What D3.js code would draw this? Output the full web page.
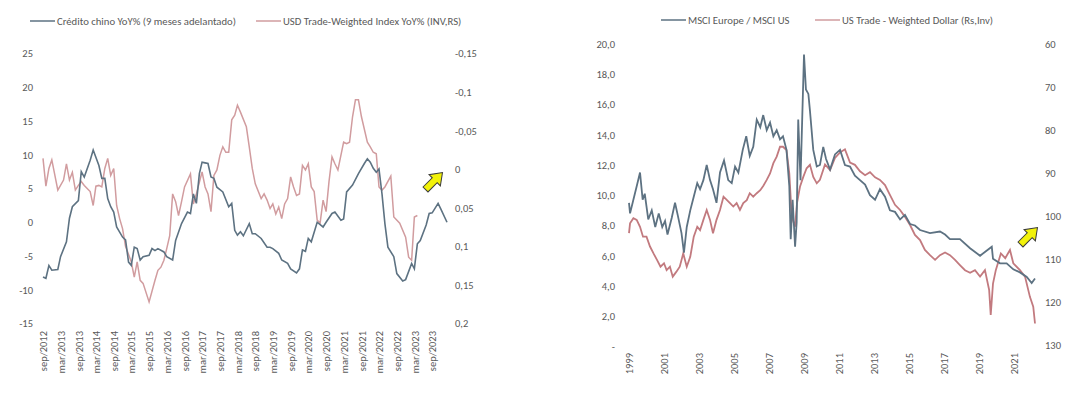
<!DOCTYPE html>
<html>
<head>
<meta charset="utf-8">
<script src="https://cdn.jsdelivr.net/npm/d3@7"></script>
<style>
  body { margin: 0; background: #fff; }
  text { font-family: Carlito, "Liberation Sans Narrow", "Liberation Sans", sans-serif; fill: #595959; }
</style>
</head>
<body>
<div id="graph"></div>
<script>
// ---- left chart: Chinese credit vs USD trade-weighted (monthly) ----
var creditDates = ["2012-09","2012-10","2012-11","2012-12","2013-02","2013-03","2013-05","2013-06","2013-07","2013-09",
  "2013-10","2013-11","2014-01","2014-02","2014-04","2014-05","2014-06","2014-07","2014-08","2014-09",
  "2014-10","2014-12","2015-01","2015-02","2015-03","2015-04","2015-05","2015-06","2015-07","2015-09",
  "2015-10","2015-11","2015-12","2016-02","2016-03","2016-05","2016-06","2016-08","2016-10","2016-11",
  "2016-12","2017-01","2017-02","2017-03","2017-04","2017-05","2017-06","2017-07","2017-08","2017-10",
  "2017-12","2018-01","2018-02","2018-03","2018-04","2018-05","2018-07","2018-08","2018-09","2018-11",
  "2019-01","2019-02","2019-03","2019-05","2019-06","2019-08","2019-09","2019-11","2019-12","2020-01",
  "2020-02","2020-03","2020-04","2020-06","2020-08","2020-09","2020-11","2020-12","2021-02","2021-03",
  "2021-04","2021-06","2021-08","2021-10","2021-11","2021-12","2022-01","2022-02","2022-03","2022-04",
  "2022-05","2022-06","2022-08","2022-09","2022-11","2022-12","2023-02","2023-03","2023-04","2023-05",
  "2023-07","2023-08","2023-09","2023-11","2023-12","2024-02"];
var creditValues = [-8.1,-8.3,-6.4,-7.1,-7.0,-5.1,-2.9,0.6,2.3,3.2,
  7.5,6.7,9.2,10.7,8.4,6.5,6.5,3.5,2.3,1.5,
  -0.7,-2.2,-2.6,-5.9,-6.4,-3.7,-3.9,-5.6,-5.1,-4.9,
  -3.9,-4.2,-3.9,-4.4,-5.1,-5.6,-2.7,-0.2,1.5,1.3,
  4.2,2.8,7.2,8.9,8.8,8.7,6.7,6.5,5.2,4.5,
  2.3,2.8,-1.2,-1.9,-1.4,-2.0,-0.2,-1.7,-1.7,-2.4,
  -3.7,-3.7,-3.9,-4.6,-5.6,-6.1,-6.9,-7.5,-6.9,-4.1,
  -4.3,-2.4,-2.9,0.0,-0.7,0.0,1.3,1.5,0.3,0.5,
  4.5,5.5,7.2,8.7,9.4,8.9,8.0,7.4,7.9,4.2,
  -0.2,-3.7,-5.1,-7.6,-8.7,-8.5,-6.1,-6.9,-3.2,-2.7,
  -0.4,1.3,1.4,2.8,1.9,0.0];

var usdDates = ["2012-09","2012-10","2012-11","2012-12","2013-02","2013-04","2013-05","2013-06","2013-07","2013-08",
  "2013-09","2013-10","2013-11","2014-01","2014-02","2014-03","2014-04","2014-05","2014-06","2014-07",
  "2014-08","2014-09","2014-10","2014-11","2014-12","2015-01","2015-03","2015-04","2015-05","2015-06",
  "2015-07","2015-09","2015-11","2015-12","2016-01","2016-02","2016-03","2016-04","2016-05","2016-06",
  "2016-07","2016-08","2016-09","2016-11","2016-12","2017-01","2017-03","2017-04","2017-05","2017-06",
  "2017-07","2017-08","2017-09","2017-10","2017-11","2017-12","2018-01","2018-02","2018-03","2018-04",
  "2018-06","2018-07","2018-08","2018-09","2018-11","2018-12","2019-01","2019-02","2019-03","2019-04",
  "2019-05","2019-06","2019-07","2019-08","2019-09","2019-10","2019-11","2019-12","2020-01","2020-02",
  "2020-03","2020-04","2020-05","2020-06","2020-07","2020-08","2020-09","2020-10","2020-11","2020-12",
  "2021-01","2021-03","2021-04","2021-05","2021-06","2021-07","2021-08","2021-09","2021-11","2021-12",
  "2022-01","2022-02","2022-03","2022-04","2022-05","2022-07","2022-08","2022-10","2022-12","2023-01",
  "2023-02","2023-03","2023-04"];
var usdValues = [-0.014,0.022,-0.001,-0.012,0.027,0.014,-0.007,0.014,0.004,0.027,
  0.021,0.016,0.021,0.029,0.047,0.022,0.021,0.023,-0.001,-0.014,
  0.008,-0.001,0.047,0.064,0.077,0.1,0.12,0.14,0.12,0.144,
  0.148,0.172,0.144,0.131,0.127,0.118,0.103,0.086,0.032,0.042,
  0.06,0.042,0.023,0.006,0.045,0.032,0.0035,0.023,0.032,0.055,
  0.008,0.001,-0.018,-0.029,-0.022,-0.022,-0.064,-0.070,-0.083,-0.074,
  -0.055,-0.029,-0.001,0.019,0.038,0.032,0.040,0.051,0.045,0.058,
  0.049,0.064,0.045,0.038,0.010,0.023,0.034,0.032,-0.005,0.001,
  -0.007,0.023,0.029,0.066,0.070,0.040,0.055,0.016,-0.016,-0.007,
  0.001,-0.035,-0.033,-0.035,-0.068,-0.090,-0.090,-0.068,-0.035,-0.029,
  -0.022,-0.020,0.023,0.027,0.023,0.009,0.062,0.070,0.088,0.114,
  0.118,0.062,0.060];

var leftTicks = [25, 20, 15, 10, 5, 0, -5, -10, -15];
var rightTicks = [-0.15, -0.1, -0.05, 0, 0.05, 0.1, 0.15, 0.2];
var monthNames = ["jan","feb","mar","apr","may","jun","jul","aug","sep","oct","nov","dec"];

// ---- right chart: MSCI Europe / MSCI US vs US trade-weighted dollar ----
var ratioYears = [1999.0,1999.06,1999.25,1999.44,1999.63,1999.78,1999.9,2000.1,2000.3,2000.5,
  2000.7,2000.9,2001.06,2001.2,2001.44,2001.63,2001.8,2002.0,2002.14,2002.3,
  2002.5,2002.7,2002.9,2003.06,2003.25,2003.44,2003.63,2003.8,2004.0,2004.2,
  2004.43,2004.67,2004.87,2005.06,2005.25,2005.5,2005.7,2005.9,2006.1,2006.3,
  2006.5,2006.67,2006.87,2007.06,2007.25,2007.44,2007.63,2007.8,2008.0,2008.16,
  2008.24,2008.35,2008.49,2008.58,2008.67,2008.8,2009.0,2009.11,2009.25,2009.34,
  2009.53,2009.73,2009.91,2010.1,2010.26,2010.49,2010.77,2011.06,2011.34,2011.63,2011.91,
  2012.2,2012.49,2012.77,2013.06,2013.34,2013.63,2013.91,2014.2,2014.49,2014.77,
  2015.06,2015.34,2015.63,2016.2,2016.77,2017.06,2017.34,2017.91,2018.49,2019.06,
  2019.73,2019.8,2020.2,2020.58,2020.96,2021.34,2021.73,2022.01,2022.2];
var ratioValues = [9.5,8.8,9.7,10.6,11.5,9.7,10.1,8.4,9.0,7.9,
  8.8,7.9,8.3,7.4,8.5,9.5,8.6,7.5,6.2,7.9,
  9.0,9.9,10.8,10.4,11.0,12.0,11.0,10.4,9.5,11.5,
  12.3,11.0,10.8,11.9,11.5,13.0,13.9,12.6,13.2,15.0,
  14.5,15.3,14.3,14.8,13.9,14.3,13.7,13.9,13.0,10.6,
  7.1,9.7,6.6,8.2,15.0,11.0,19.3,17.0,16.7,15.6,
  13.0,11.9,12.0,13.2,12.4,11.7,12.7,13.0,12.0,11.9,11.3,
  11.0,10.7,10.0,9.7,10.4,9.9,9.0,8.9,8.4,8.7,
  8.1,8.0,7.7,7.5,7.6,7.4,7.1,7.1,6.5,6.0,
  6.6,5.8,5.5,5.5,5.1,4.9,4.6,4.2,4.5];

var dollarYears = [1999.0,1999.06,1999.25,1999.44,1999.63,1999.8,2000.0,2000.2,2000.4,2000.6,
  2000.8,2001.0,2001.15,2001.34,2001.5,2001.7,2001.9,2002.1,2002.3,2002.5,
  2002.7,2002.9,2003.06,2003.25,2003.44,2003.63,2003.8,2004.0,2004.2,2004.4,
  2004.6,2004.77,2004.96,2005.15,2005.34,2005.53,2005.73,2005.9,2006.1,2006.3,
  2006.5,2006.67,2006.87,2007.06,2007.25,2007.44,2007.63,2007.8,2008.0,2008.16,
  2008.3,2008.49,2008.6,2008.77,2008.96,2009.15,2009.34,2009.53,2009.73,2009.91,
  2010.2,2010.49,2010.77,2011.06,2011.34,2011.63,2011.91,2012.2,2012.49,2012.77,
  2013.06,2013.34,2013.63,2013.91,2014.2,2014.49,2014.77,2015.06,2015.34,2015.63,
  2015.91,2016.2,2016.49,2016.77,2017.06,2017.34,2017.63,2017.91,2018.2,2018.49,
  2018.77,2019.06,2019.34,2019.58,2019.67,2019.8,2019.96,2020.25,2020.5,2020.77,
  2020.96,2021.34,2021.63,2021.91,2022.1,2022.2];
var dollarValues = [104.0,101.7,100.5,100.9,102.5,104.8,104.8,107.1,108.7,110.2,
  111.8,111.0,112.6,111.8,114.1,113.0,111.8,108.7,111.8,109.5,
  104.8,102.5,103.3,100.9,98.6,100.9,104.0,100.9,98.6,95.5,
  96.3,97.0,97.8,97.0,98.6,97.0,96.3,94.7,95.5,94.7,
  94.0,93.0,91.6,90.1,87.7,86.2,83.9,83.9,84.7,90.1,
  100.2,102.5,97.0,93.2,90.9,88.9,88.1,90.9,92.4,91.6,
  88.0,89.3,86.5,85.2,84.5,87.6,88.1,89.6,90.5,89.8,
  91.0,91.6,92.8,95.1,97.4,98.6,100.2,102.1,104.4,105.6,
  107.9,109.1,110.2,109.1,108.5,109.1,110.2,111.4,112.6,113.2,
  112.6,114.1,112.6,117.2,123.0,115.7,112.6,108.7,109.8,107.9,
  111.0,112.6,114.1,118.8,121.1,125.0];

var ratioTicks = [0, 2, 4, 6, 8, 10, 12, 14, 16, 18, 20];
var dollarTicks = [60, 70, 80, 90, 100, 110, 120, 130];
var yearTicks = [1999, 2001, 2003, 2005, 2007, 2009, 2011, 2013, 2015, 2017, 2019, 2021];

var blue = "#5d7282", redLight = "#d19c9f", red = "#c27a7f";

var svg = d3.select("#graph")
  .append("svg")
    .attr("width", 1080)
    .attr("height", 393);

var parseMonth = d3.timeParse("%Y-%m");

// ===== left chart =====
var xL = d3.scaleTime()
  .domain([parseMonth("2012-09"), parseMonth("2024-02")])
  .range([43, 447]);
var yL = d3.scaleLinear().domain([-15, 25]).range([323.5, 53.5]);
var yR = d3.scaleLinear().domain([-0.15, 0.2]).range([53.5, 323.5]);

var monthTicks = d3.range(23).map(i => d3.timeMonth.offset(parseMonth("2012-09"), 6 * i));

var axL = svg.append("g")
  .attr("transform", "translate(33,0)")
  .call(d3.axisLeft(yL).tickValues(leftTicks).tickSize(0).tickPadding(0).tickFormat(d => String(d)));
axL.select(".domain").remove();

var axR = svg.append("g")
  .attr("transform", "translate(455,0)")
  .call(d3.axisRight(yR).tickValues(rightTicks).tickSize(0).tickPadding(0)
    .tickFormat(d => String(d).replace(".", ",")));
axR.select(".domain").remove();

var axX = svg.append("g")
  .attr("transform", "translate(0,323)")
  .call(d3.axisBottom(xL).tickValues(monthTicks).tickSize(0)
    .tickFormat(d => monthNames[d.getMonth()] + "/" + d.getFullYear()));
axX.select(".domain").remove();
axX.selectAll("text")
  .attr("transform", "rotate(-90)")
  .attr("text-anchor", "end")
  .attr("x", -8)
  .attr("y", 0)
  .attr("dy", "0.35em");

svg.selectAll(".tick text").style("font-size", "10.5px").style("fill", "#595959");

var usdData = usdDates.map((d, i) => ({date: parseMonth(d), value: usdValues[i]}));
var creditData = creditDates.map((d, i) => ({date: parseMonth(d), value: creditValues[i]}));

svg.append("path")
  .datum(usdData)
  .attr("fill", "none")
  .attr("stroke", redLight)
  .attr("stroke-width", 1.5)
  .attr("d", d3.line().x(d => xL(d.date)).y(d => yR(d.value)));

svg.append("path")
  .datum(creditData)
  .attr("fill", "none")
  .attr("stroke", blue)
  .attr("stroke-width", 1.6)
  .attr("d", d3.line().x(d => xL(d.date)).y(d => yL(d.value)));

// ===== right chart =====
var x2 = d3.scaleLinear().domain([1999, 2022.2]).range([629, 1035]);
var y2L = d3.scaleLinear().domain([0, 20]).range([346.5, 44]);
var y2R = d3.scaleLinear().domain([60, 130]).range([44, 345]);

var ax2L = svg.append("g")
  .attr("transform", "translate(615,0)")
  .call(d3.axisLeft(y2L).tickValues(ratioTicks).tickSize(0).tickPadding(0)
    .tickFormat(d => d === 0 ? "-" : d.toFixed(1).replace(".", ",")));
ax2L.select(".domain").remove();

var ax2R = svg.append("g")
  .attr("transform", "translate(1045,0)")
  .call(d3.axisRight(y2R).tickValues(dollarTicks).tickSize(0).tickPadding(0).tickFormat(d => String(d)));
ax2R.select(".domain").remove();

var ax2X = svg.append("g")
  .attr("transform", "translate(0,346)")
  .call(d3.axisBottom(x2).tickValues(yearTicks).tickSize(0).tickFormat(d => String(d)));
ax2X.select(".domain").remove();
ax2X.selectAll("text")
  .attr("transform", "rotate(-90)")
  .attr("text-anchor", "end")
  .attr("x", -7)
  .attr("y", 0)
  .attr("dy", "0.35em");

svg.selectAll(".tick text").style("font-size", "10.5px").style("fill", "#595959");

var dollarData = dollarYears.map((d, i) => ({t: d, value: dollarValues[i]}));
var ratioData = ratioYears.map((d, i) => ({t: d, value: ratioValues[i]}));

svg.append("path")
  .datum(dollarData)
  .attr("fill", "none")
  .attr("stroke", red)
  .attr("stroke-width", 1.8)
  .attr("d", d3.line().x(d => x2(d.t)).y(d => y2R(d.value)));

svg.append("path")
  .datum(ratioData)
  .attr("fill", "none")
  .attr("stroke", blue)
  .attr("stroke-width", 1.8)
  .attr("d", d3.line().x(d => x2(d.t)).y(d => y2L(d.value)));

// ===== legends =====
function legendItem(x, y, color, label) {
  svg.append("line")
    .attr("x1", x).attr("x2", x + 25)
    .attr("y1", y).attr("y2", y)
    .attr("stroke", color).attr("stroke-width", 1.5);
  svg.append("text")
    .attr("x", x + 27).attr("y", y)
    .attr("dy", "0.35em")
    .style("font-size", "10.7px")
    .text(label);
}
legendItem(30, 21, blue, "Crédito chino YoY% (9 meses adelantado)");
legendItem(256, 21, redLight, "USD Trade-Weighted Index YoY% (INV,RS)");
legendItem(661, 20, blue, "MSCI Europe / MSCI US");
legendItem(815, 20, redLight, "US Trade - Weighted Dollar (Rs,Inv)");

// ===== yellow arrows =====
var arrowShape = "M-12,-3.5 L1,-3.5 L1,-8 L12,0 L1,8 L1,3.5 L-12,3.5 Z";
[[434, 181], [1029, 236]].forEach(function(p) {
  svg.append("path")
    .attr("d", arrowShape)
    .attr("transform", "translate(" + p[0] + "," + p[1] + ") rotate(-45)")
    .attr("fill", "#f2f20a")
    .attr("stroke", "#3a3a3a")
    .attr("stroke-width", 1);
});
</script>
</body>
</html>
